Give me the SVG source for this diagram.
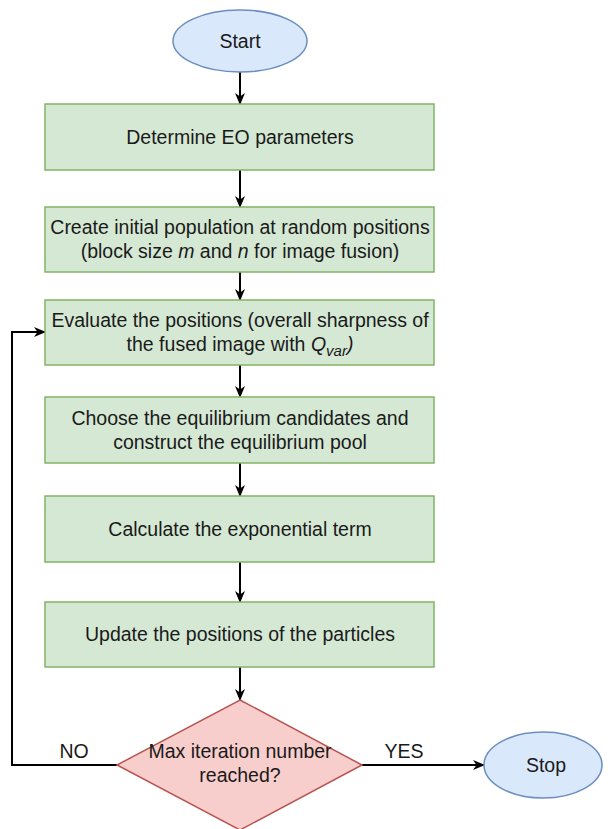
<svg xmlns="http://www.w3.org/2000/svg" width="614" height="829" viewBox="0 0 614 829">
<defs>
<style>
.t{font-family:"Liberation Sans",Arial,sans-serif;font-size:19.5px;fill:#1a1a1a;text-anchor:middle}
.box{fill:#d5e8d4;stroke:#82b366;stroke-width:1.5}
.ell{fill:#dae8fc;stroke:#6c8ebf;stroke-width:1.5}
.dia{fill:#f8cecc;stroke:#b85450;stroke-width:1.5}
.c{fill:none;stroke:#000;stroke-width:2}
</style>
<marker id="a" viewBox="0 0 12 12" refX="11" refY="6" markerWidth="12" markerHeight="12" markerUnits="userSpaceOnUse" orient="auto">
<path d="M0,1 L12,6 L0,11 L3.5,6 Z" fill="#000"/>
</marker>
</defs>
<rect width="614" height="829" fill="#fff"/>
<g id="connectors">
<line class="c" x1="240" y1="72" x2="240" y2="104" marker-end="url(#a)"/>
<line class="c" x1="240" y1="170" x2="240" y2="207" marker-end="url(#a)"/>
<line class="c" x1="240" y1="272" x2="240" y2="300" marker-end="url(#a)"/>
<line class="c" x1="240" y1="365" x2="240" y2="397" marker-end="url(#a)"/>
<line class="c" x1="240" y1="463" x2="240" y2="496" marker-end="url(#a)"/>
<line class="c" x1="240" y1="562" x2="240" y2="602" marker-end="url(#a)"/>
<line class="c" x1="240" y1="667" x2="240" y2="700" marker-end="url(#a)"/>
<polyline class="c" points="117,765 12,765 12,332 45,332" marker-end="url(#a)"/>
<line class="c" x1="362" y1="765" x2="484" y2="765" marker-end="url(#a)"/>
<text class="t" x="74" y="758">NO</text>
<text class="t" x="404" y="758">YES</text>
</g>
<g id="start">
<ellipse class="ell" cx="240" cy="41" rx="67" ry="31"/>
<text class="t" x="240" y="48">Start</text>
</g>
<g id="box1">
<rect class="box" x="45" y="104" width="389" height="66"/>
<text class="t" x="240" y="144">Determine EO parameters</text>
</g>
<g id="box2">
<rect class="box" x="45" y="207" width="389" height="65"/>
<text class="t" x="240" y="234">Create initial population at random positions</text>
<text class="t" x="240" y="258">(block size <tspan font-style="italic">m</tspan> and <tspan font-style="italic">n</tspan> for image fusion)</text>
</g>
<g id="box3">
<rect class="box" x="45" y="300" width="389" height="65"/>
<text class="t" x="240" y="327">Evaluate the positions (overall sharpness of</text>
<text class="t" x="240" y="351">the fused image with <tspan font-style="italic">Q<tspan font-size="15" dy="5">var</tspan><tspan dy="-5">)</tspan></tspan></text>
</g>
<g id="box4">
<rect class="box" x="45" y="397" width="389" height="66"/>
<text class="t" x="240" y="425">Choose the equilibrium candidates and</text>
<text class="t" x="240" y="449">construct the equilibrium pool</text>
</g>
<g id="box5">
<rect class="box" x="45" y="496" width="389" height="66"/>
<text class="t" x="240" y="536">Calculate the exponential term</text>
</g>
<g id="box6">
<rect class="box" x="45" y="602" width="389" height="65"/>
<text class="t" x="240" y="641">Update the positions of the particles</text>
</g>
<g id="decision">
<polygon class="dia" points="240,700 362,765 240,830 117,765"/>
<text class="t" x="240" y="758">Max iteration number</text>
<text class="t" x="240" y="782">reached?</text>
</g>
<g id="stop">
<ellipse class="ell" cx="543" cy="765" rx="59" ry="33"/>
<text class="t" x="546" y="772">Stop</text>
</g>
</svg>
